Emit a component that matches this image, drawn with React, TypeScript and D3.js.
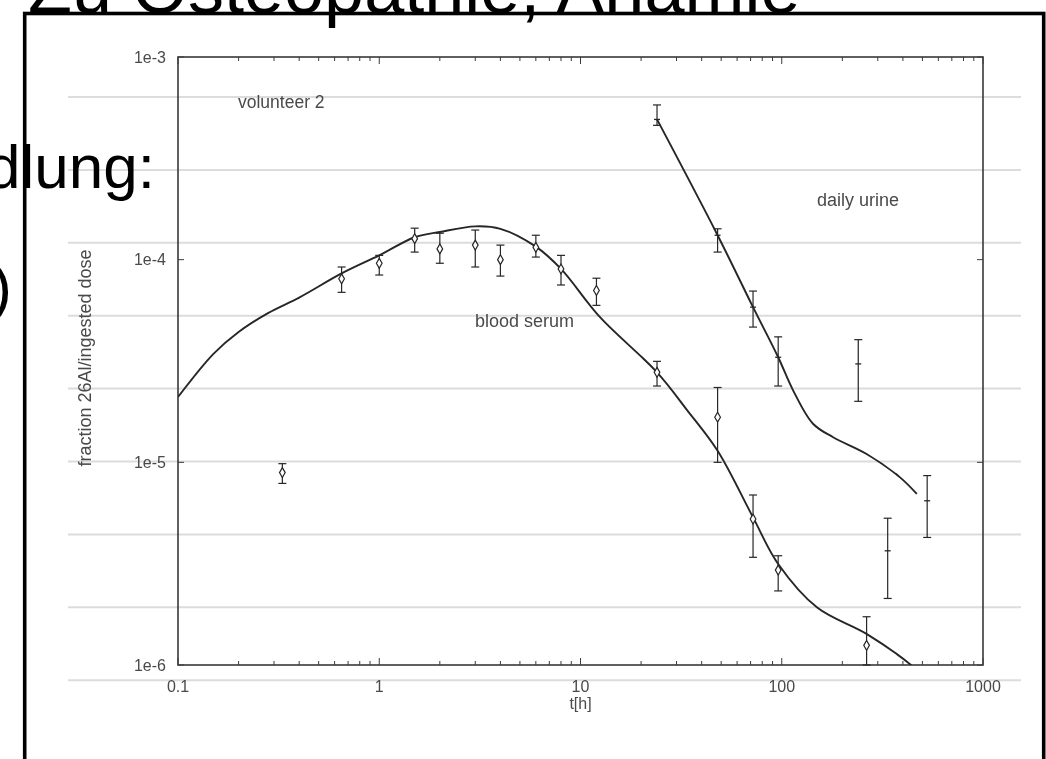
import React from 'react';
import * as d3 from 'd3';

// measured points: blood serum (t in hours, fraction of ingested dose)
const serumT = [0.33, 0.65, 1, 1.5, 2, 3, 4, 6, 8, 12, 24, 48, 72, 96, 264];
const serumV = [8.9e-6, 8.05e-5, 9.6e-5, 1.27e-4, 1.13e-4, 1.18e-4, 1.0e-4, 1.15e-4, 9.0e-5, 7.05e-5, 2.78e-5, 1.67e-5, 5.25e-6, 2.94e-6, 1.25e-6];
const serumHi = [9.85e-6, 9.2e-5, 1.05e-4, 1.43e-4, 1.35e-4, 1.4e-4, 1.18e-4, 1.32e-4, 1.05e-4, 8.1e-5, 3.15e-5, 2.34e-5, 6.9e-6, 3.46e-6, 1.73e-6];
const serumLo = [7.87e-6, 6.9e-5, 8.4e-5, 1.09e-4, 9.6e-5, 9.2e-5, 8.3e-5, 1.03e-4, 7.5e-5, 5.95e-5, 2.38e-5, 1.0e-5, 3.4e-6, 2.32e-6, 1.0e-6];

// measured points: daily urine
const urineT = [24, 48, 72, 96, 240, 336, 528];
const urineV = [4.92e-4, 1.32e-4, 5.83e-5, 3.3e-5, 3.06e-5, 3.66e-6, 6.46e-6];
const urineHi = [5.8e-4, 1.42e-4, 7.0e-5, 4.16e-5, 4.03e-5, 5.3e-6, 8.6e-6];
const urineLo = [4.6e-4, 1.09e-4, 4.65e-5, 2.38e-5, 2.0e-5, 2.13e-6, 4.26e-6];

// model curves
const modelSerumT = [0.1, 0.15, 0.2, 0.28, 0.4, 0.65, 1, 1.5, 2, 3, 4, 6, 8, 12.5, 24, 34, 48, 72, 96, 150, 265, 450, 520];
const modelSerumV = [2.1e-5, 3.43e-5, 4.4e-5, 5.45e-5, 6.5e-5, 8.55e-5, 1.05e-4, 1.29e-4, 1.37e-4, 1.46e-4, 1.42e-4, 1.16e-4, 9.0e-5, 5.2e-5, 2.78e-5, 1.8e-5, 1.14e-5, 5.35e-6, 3.15e-6, 1.92e-6, 1.42e-6, 0.98e-6, 0.85e-6];
const modelUrineT = [24, 48, 72, 96, 114, 143, 180, 264, 387, 469];
const modelUrineV = [4.92e-4, 1.32e-4, 5.83e-5, 3.3e-5, 2.26e-5, 1.55e-5, 1.33e-5, 1.1e-5, 8.43e-6, 6.98e-6];

const xTickValues = [0.1, 1, 10, 100, 1000];
const xTickLabels = ['0.1', '1', '10', '100', '1000'];
const yTickValues = [1e-3, 1e-4, 1e-5, 1e-6];
const yTickLabels = ['1e-3', '1e-4', '1e-5', '1e-6'];

const FONT = '"Liberation Sans", Arial, Helvetica, sans-serif';

export default function App() {
  const W = 1046;
  const H = 759;
  const left = 178, right = 983, top = 57, bottom = 665;
  const x = d3.scaleLog().domain([0.1, 1000]).range([left, right]);
  const y = d3.scaleLog().domain([1e-6, 1e-3]).range([bottom, top]);

  const line = d3
    .line<[number, number]>()
    .x((d) => x(d[0]))
    .y((d) => y(d[1]))
    .curve(d3.curveCatmullRom.alpha(0.5));

  const serumCurve = line(modelSerumT.map((t, i) => [t, modelSerumV[i]] as [number, number])) || '';
  const urineCurve = line(modelUrineT.map((t, i) => [t, modelUrineV[i]] as [number, number])) || '';
  const diamond = d3.symbol().type(d3.symbolDiamond).size(28)() || '';

  const minorX = x.ticks();
  const ruleYs = d3.range(9).map((i) => 97 + i * 72.9);
  const ink = '#262626';
  const txt = '#4a4a4a';

  const errBars = (ts: number[], vs: number[], hi: number[], lo: number[], key: string, marker: boolean) =>
    ts.map((t, i) => {
      const cx = x(t);
      const y1 = y(Math.min(hi[i], 1e-3));
      const y2 = y(Math.max(lo[i], 1e-6));
      return (
        <g key={key + i}>
          <line x1={cx} x2={cx} y1={y1} y2={y2} stroke={ink} strokeWidth={1.2} />
          <line x1={cx - 4} x2={cx + 4} y1={y1} y2={y1} stroke={ink} strokeWidth={1.2} />
          <line x1={cx - 4} x2={cx + 4} y1={y2} y2={y2} stroke={ink} strokeWidth={1.2} />
          {marker ? (
            <path d={diamond} transform={`translate(${cx},${y(vs[i])})`} fill="#fff" stroke={ink} strokeWidth={1.2} />
          ) : (
            <line x1={cx - 3} x2={cx + 3} y1={y(vs[i])} y2={y(vs[i])} stroke={ink} strokeWidth={1.3} />
          )}
        </g>
      );
    });

  return (
    <svg width={W} height={H} style={{ position: 'absolute', left: 0, top: 0, background: '#fff' }} fontFamily={FONT}>
      <defs>
        <clipPath id="plot">
          <rect x={left} y={top} width={right - left} height={bottom - top} />
        </clipPath>
        <filter id="scan" x="-5%" y="-5%" width="110%" height="110%">
          <feGaussianBlur stdDeviation={0.55} />
        </filter>
      </defs>
      <rect x={0} y={0} width={W} height={H} fill="#fff" />
      {/* slide frame */}
      <rect x={24.7} y={13.5} width={1019} height={800} fill="#fff" stroke="#000" strokeWidth={3.6} />
      {/* ruled background lines */}
      {ruleYs.map((ry, i) => (
        <line key={'r' + i} x1={68} x2={1021} y1={ry} y2={ry} stroke="#dcdcdc" strokeWidth={2} />
      ))}
      <g filter="url(#scan)">
        {/* frame */}
        <rect x={left} y={top} width={right - left} height={bottom - top} fill="none" stroke="#3a3a3a" strokeWidth={1.6} />
        {/* x ticks top & bottom */}
        {minorX.map((t, i) => {
          const major = xTickValues.includes(t);
          const len = major ? 7 : 4;
          return (
            <g key={'xt' + i}>
              <line x1={x(t)} x2={x(t)} y1={bottom} y2={bottom - len} stroke="#3a3a3a" strokeWidth={1} />
              <line x1={x(t)} x2={x(t)} y1={top} y2={top + len} stroke="#3a3a3a" strokeWidth={1} />
            </g>
          );
        })}
        {yTickValues.map((v, i) => (
          <g key={'yt' + i}>
            <line x1={left} x2={left + 6} y1={y(v)} y2={y(v)} stroke="#3a3a3a" strokeWidth={1} />
            <line x1={right} x2={right - 6} y1={y(v)} y2={y(v)} stroke="#3a3a3a" strokeWidth={1} />
            <text x={left - 12} y={y(v) + 5.5} textAnchor="end" fontSize={16} fill={txt}>
              {yTickLabels[i]}
            </text>
          </g>
        ))}
        {xTickValues.map((t, i) => (
          <text key={'xl' + i} x={x(t)} y={692} textAnchor="middle" fontSize={16} fill={txt}>
            {xTickLabels[i]}
          </text>
        ))}
        <text x={x(10)} y={709} textAnchor="middle" fontSize={16} fill={txt}>
          t[h]
        </text>
        <text
          transform={`translate(91,358) rotate(-90)`}
          textAnchor="middle"
          fontSize={18}
          fill={txt}
        >
          fraction 26Al/ingested dose
        </text>
        <text x={238} y={108} fontSize={17.5} fill={txt}>
          volunteer 2
        </text>
        <text x={475} y={327} fontSize={18} fill={txt}>
          blood serum
        </text>
        <text x={817} y={206} fontSize={18} fill={txt}>
          daily urine
        </text>
        <g clipPath="url(#plot)">
          <path d={serumCurve} fill="none" stroke={ink} strokeWidth={1.9} />
          <path d={urineCurve} fill="none" stroke={ink} strokeWidth={1.9} />
        </g>
        {errBars(serumT, serumV, serumHi, serumLo, 's', true)}
        {errBars(urineT, urineV, urineHi, urineLo, 'u', false)}
      </g>
      {/* slide text overlaying */}
      <text x={28} y={13} fontSize={72} fill="#000">
        Zu Osteopathie, Anämie
      </text>
      <text x={155} y={188} textAnchor="end" fontSize={62} fill="#000">
        Behandlung:
      </text>
      <text x={12} y={308} textAnchor="end" fontSize={62} fill="#000">
        )
      </text>
    </svg>
  );
}
